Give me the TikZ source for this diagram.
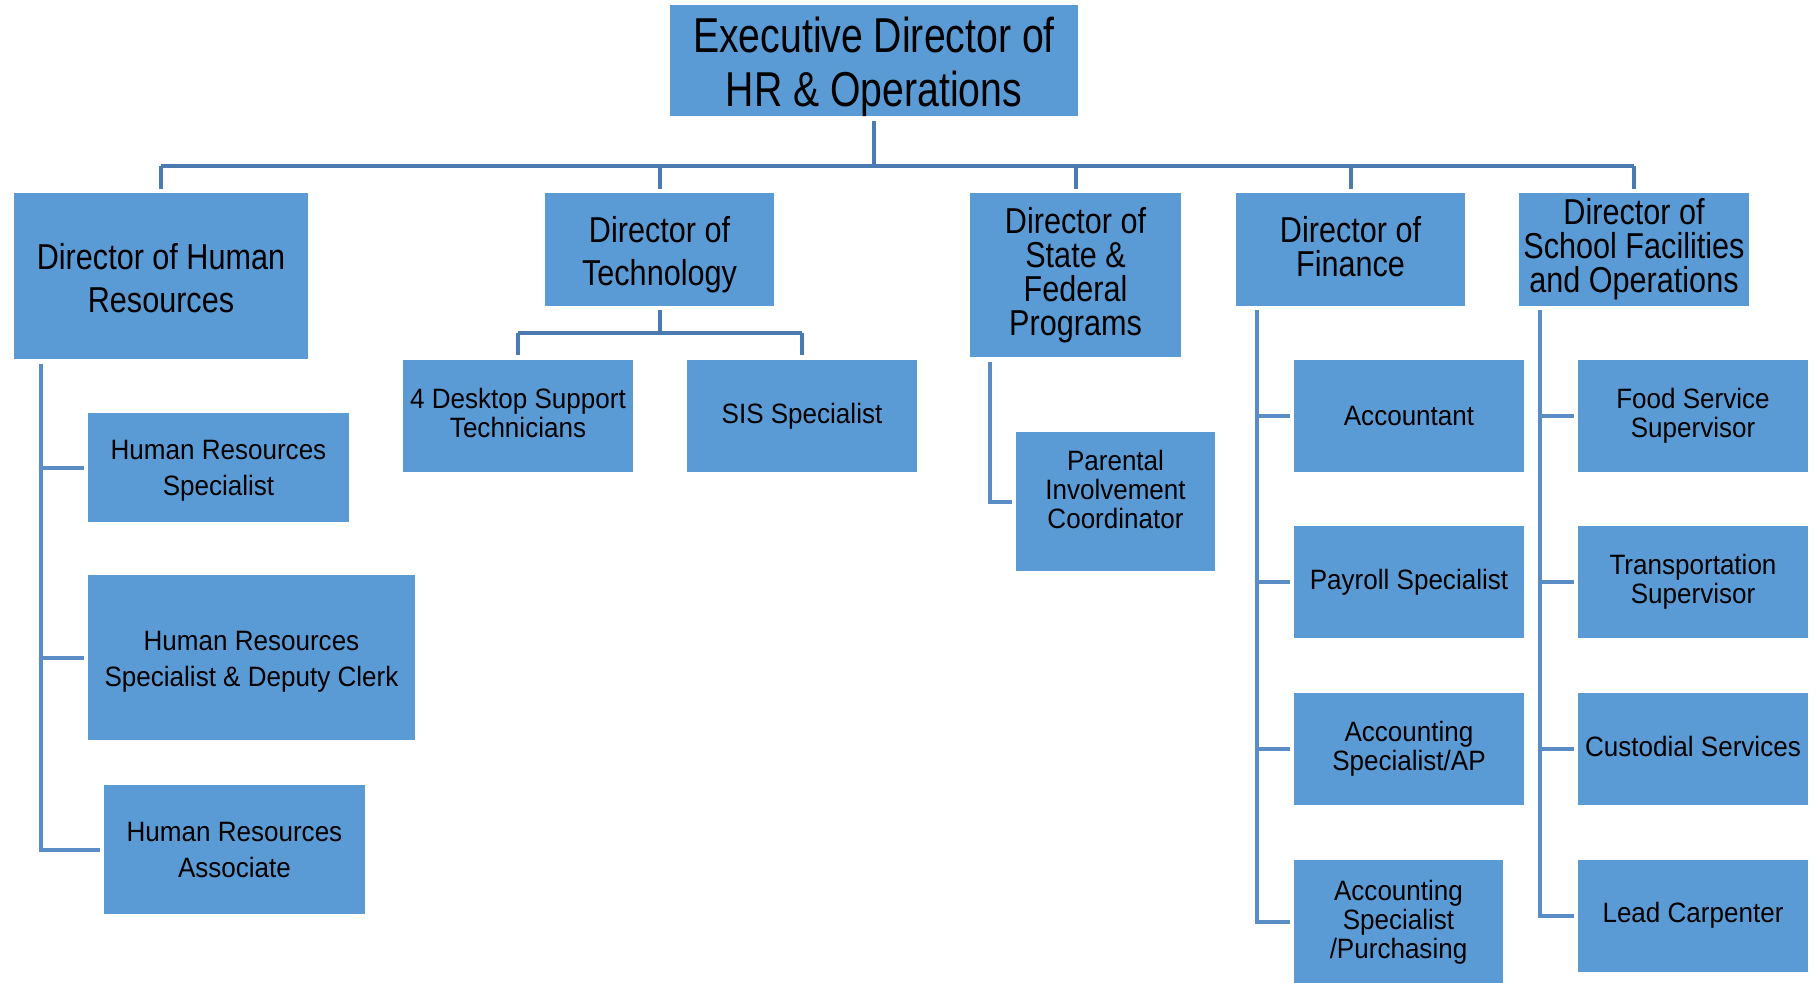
\documentclass[tikz,border=0pt]{standalone}
\usepackage{fontspec}
\setmainfont{Liberation Sans}
\newfontfamily\execfont{Liberation Sans}[FakeStretch=0.80]
\newfontfamily\dirfont{Liberation Sans}[FakeStretch=0.85]
\newfontfamily\stafffont{Liberation Sans}[FakeStretch=0.93]

\definecolor{boxblue}{HTML}{5B9BD5}
\definecolor{linedark}{HTML}{4A7AB0}
\definecolor{linelight}{HTML}{5A8DC6}

\tikzset{
  box/.style={rectangle, fill=boxblue, inner sep=0pt, align=center, text=black},
  execbox/.style={box, font=\execfont\fontsize{24.5}{27}\selectfont},
  dirbox/.style={box, font=\dirfont\fontsize{18}{21.5}\selectfont},
  dirtight/.style={box, font=\dirfont\fontsize{18}{17}\selectfont},
  staffbox/.style={box, font=\stafffont\fontsize{14}{18}\selectfont},
  stafftight/.style={box, font=\stafffont\fontsize{14}{14.5}\selectfont},
  link/.style={draw=linedark, line width=2pt},
  branch/.style={draw=linelight, line width=2pt},
}

\begin{document}
\begin{tikzpicture}[x=0.5pt, y=-0.5pt]

  \useasboundingbox (0,0) rectangle (1817,982);

  \node[execbox, minimum width=204pt, minimum height=53.5pt] at (874,60.5) (c0) {\rule{0pt}{23.8pt}Executive Director of\\HR \& Operations};

  \node[dirbox, minimum width=147pt, minimum height=83pt] at (161,276) (c1) {\rule{0pt}{15pt}Director of Human\\Resources};
  \node[dirbox, minimum width=114.5pt, minimum height=56.5pt] at (659.5,249.5) (c2) {\rule{0pt}{18pt}Director of\\Technology};
  \node[dirtight, minimum width=105.5pt, minimum height=82pt] at (1075.5,275) (c3) {Director of\\State \&\\Federal\\Programs};
  \node[dirtight, minimum width=114.5pt, minimum height=56.5pt] at (1350.5,249.5) (c4) {Director of\\Finance\rule[-3pt]{0pt}{0pt}};
  \node[dirtight, minimum width=115pt, minimum height=56.5pt] at (1634,249.5) (c5) {Director of\\School Facilities\\and Operations};

  % human resources
  \node[staffbox, minimum width=130.5pt, minimum height=54.5pt] at (218.5,467.5) (c11) {\rule{0pt}{13pt}Human Resources\\Specialist};
  \node[staffbox, minimum width=163.5pt, minimum height=82.5pt] at (251.5,657.5) (c12) {\rule{0pt}{13.5pt}Human Resources\\Specialist \& Deputy Clerk};
  \node[staffbox, minimum width=130.5pt, minimum height=64.5pt] at (234.5,849.5) (c13) {Human Resources\\Associate};

  % technology
  \node[stafftight, minimum width=115pt, minimum height=56pt] at (518,416) (c21) {4 Desktop Support\\Technicians\rule[-3pt]{0pt}{0pt}};
  \node[stafftight, minimum width=115pt, minimum height=56pt] at (802,416) (c22) {SIS Specialist};

  % state and federal
  \node[stafftight, minimum width=99.5pt, minimum height=69.5pt] at (1115.5,501.5) (c31) {Parental\\Involvement\\Coordinator\rule[-12.5pt]{0pt}{0pt}};

  % finance
  \node[stafftight, minimum width=115pt, minimum height=56pt] at (1409,416) (c41) {Accountant};
  \node[stafftight, minimum width=115pt, minimum height=56pt] at (1409,582) (c42) {Payroll Specialist};
  \node[stafftight, minimum width=115pt, minimum height=56pt] at (1409,748.5) (c43) {Accounting\\Specialist/AP};
  \node[stafftight, minimum width=104.5pt, minimum height=62pt] at (1398.5,922) (c44) {Accounting\\Specialist\\/Purchasing};

  % facilities
  \node[stafftight, minimum width=115pt, minimum height=56pt] at (1693,416) (c51) {Food Service\\Supervisor};
  \node[stafftight, minimum width=115pt, minimum height=56pt] at (1693,582) (c52) {Transportation\\Supervisor};
  \node[stafftight, minimum width=115pt, minimum height=56pt] at (1693,748.5) (c53) {Custodial Services\rule[-2.5pt]{0pt}{0pt}};
  \node[stafftight, minimum width=115pt, minimum height=56pt] at (1693,915.5) (c54) {Lead Carpenter};

  \coordinate (bar) at (874,166);
  \coordinate (tbar) at (659.5,333);
  \coordinate (s1) at (41,364);
  \coordinate (s3) at (990,362);
  \coordinate (s4) at (1257,310);
  \coordinate (s5) at (1540,310);

  \draw[link, shorten <=2pt] (c0.south) -- (bar);
  \draw[link] (c1.north |- bar) -- (c5.north |- bar);
  \foreach \n in {c1,c2,c3,c4,c5}
    \draw[link, shorten >=2pt] (\n.north |- bar) -- (\n.north);

  \draw[link, shorten <=2pt] (c2.south) -- (tbar);
  \draw[link] (c21.north |- tbar) -- (c22.north |- tbar);
  \foreach \n in {c21,c22}
    \draw[link, shorten >=2.5pt] (\n.north |- tbar) -- (\n.north);

  \foreach \n in {c11,c12,c13}
    \draw[branch, shorten >=2pt] (s1) |- (\n.west);
  \draw[branch, shorten >=2pt] (s3) |- (c31.west);
  \foreach \n in {c41,c42,c43,c44}
    \draw[branch, shorten >=2pt] (s4) |- (\n.west);
  \foreach \n in {c51,c52,c53,c54}
    \draw[branch, shorten >=2pt] (s5) |- (\n.west);

\end{tikzpicture}
\end{document}
